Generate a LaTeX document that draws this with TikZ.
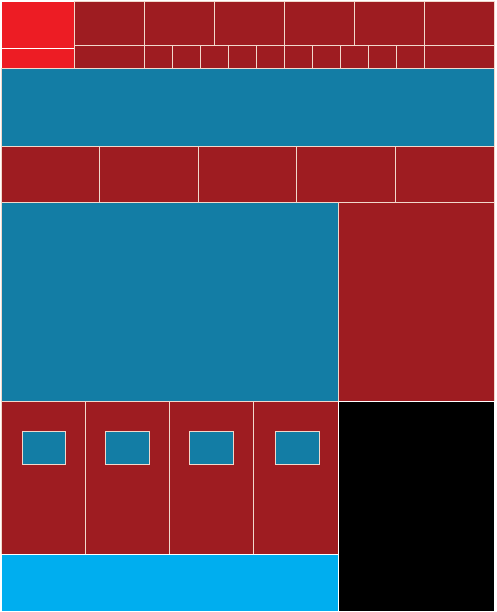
\documentclass[tikz,border=0pt]{standalone}
\usepackage{tikz}
\definecolor{darkred}{HTML}{9E1C21}
\definecolor{brightred}{HTML}{ED1C24}
\definecolor{steelblue}{HTML}{137DA5}
\definecolor{skyblue}{HTML}{00AEEF}
\definecolor{edge}{HTML}{F2D8CC}
\tikzset{
  cell/.style={draw=edge, line width=0.7pt},
  redcell/.style={cell, fill=darkred},
  bluecell/.style={cell, fill=steelblue},
}
\begin{document}
\begin{tikzpicture}[x=1pt,y=-1pt]
\useasboundingbox (0,0) rectangle (496,612);
\fill[white] (0,0) rectangle (496,612);
% top-left bright red
\path[cell, fill=brightred, draw=white] (1,1) rectangle (74,48);
\path[cell, fill=brightred, draw=white] (1,48) rectangle (74,68);
% top row
\foreach \i in {0,...,5} {
  \path[redcell] ({74+70*\i},1) rectangle ({144+70*\i},45);
}
% second row
\path[redcell] (74,45) rectangle (144,68);
\foreach \i in {0,...,9} {
  \path[redcell] ({144+28*\i},45) rectangle ({172+28*\i},68);
}
\path[redcell] (424,45) rectangle (494,68);
% blue band
\path[bluecell] (1,68) rectangle (494,146);
% five-box row
\foreach \i in {0,...,4} {
  \path[redcell] ({1+98.6*\i},146) rectangle ({99.6+98.6*\i},202);
}
% big blue and right red
\path[bluecell] (1,202) rectangle (338,401);
\path[redcell] (338,202) rectangle (494,401);
% four-box row with inner blue boxes
\foreach \i in {0,...,3} {
  \path[redcell] ({1+84.25*\i},401) rectangle ({85.25+84.25*\i},554);
}
\foreach \a/\b in {22/65, 105.5/149.5, 189.5/233, 275/319} {
  \path[bluecell] (\a,431) rectangle (\b,464);
}
% black
\path[cell, fill=black, draw=white] (338,401) rectangle (494,611);
% light blue
\path[cell, fill=skyblue, draw=white] (1,554) rectangle (338,611);
\end{tikzpicture}
\end{document}
